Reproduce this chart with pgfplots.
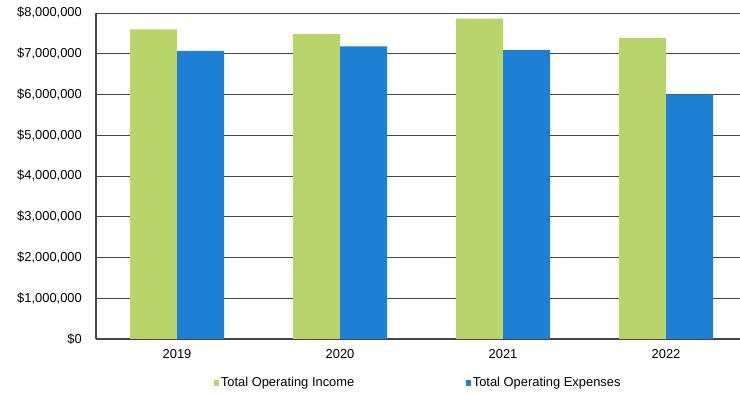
\documentclass[border=0pt]{standalone}
\usepackage{pgfplots}
\pgfplotsset{compat=1.18}
\usepackage{fontspec}
\setmainfont{Liberation Sans}
\definecolor{inc}{RGB}{186,212,108}
\definecolor{exps}{RGB}{30,128,212}
\definecolor{gridc}{RGB}{70,70,70}
\begin{document}
\begin{tikzpicture}
\useasboundingbox (-96bp,-55bp) rectangle (644bp,339bp);
\begin{axis}[
  at={(0,0)}, anchor=south west, scale only axis,
  width=644bp, height=326bp,
  ybar=0pt, bar width=47bp,
  xmin=-0.497, xmax=3.454, ymin=0, ymax=8000000,
  xtick={0,1,2,3}, xticklabels={2019,2020,2021,2022},
  ytick={0,1000000,2000000,3000000,4000000,5000000,6000000,7000000,8000000},
  yticklabels={{\$0},{\$1,000,000},{\$2,000,000},{\$3,000,000},{\$4,000,000},{\$5,000,000},{\$6,000,000},{\$7,000,000},{\$8,000,000}},
  scaled y ticks=false,
  axis lines*=left,
  ymajorgrids, grid style={gridc, line width=0.9bp},
  major tick length=0pt,
  axis line style={gridc, line width=1.1bp},
  tick label style={font=\fontsize{12.9bp}{14bp}\selectfont, inner sep=0pt, text=black},
  yticklabel style={anchor=east, xshift=-14bp},
  xticklabel style={anchor=north, yshift=-10bp},
  legend style={at={(0.5,-0.135)}, anchor=center, draw=none, fill=none,
    legend columns=2, font=\fontsize{12.9bp}{14bp}\selectfont, text=black,
    /tikz/every even column/.append style={column sep=110bp},
    nodes={inner sep=1.5bp}},
  legend image code/.code={\fill[#1] (0bp,-3bp) rectangle (5.5bp,3bp);},
]
\addplot[fill=inc, draw=none] coordinates {(0,7600000) (1,7480000) (2,7860000) (3,7390000)};
\addplot[fill=exps, draw=none] coordinates {(0,7070000) (1,7180000) (2,7090000) (3,6000000)};
\legend{Total Operating Income, Total Operating Expenses}
\end{axis}
\end{tikzpicture}
\end{document}
